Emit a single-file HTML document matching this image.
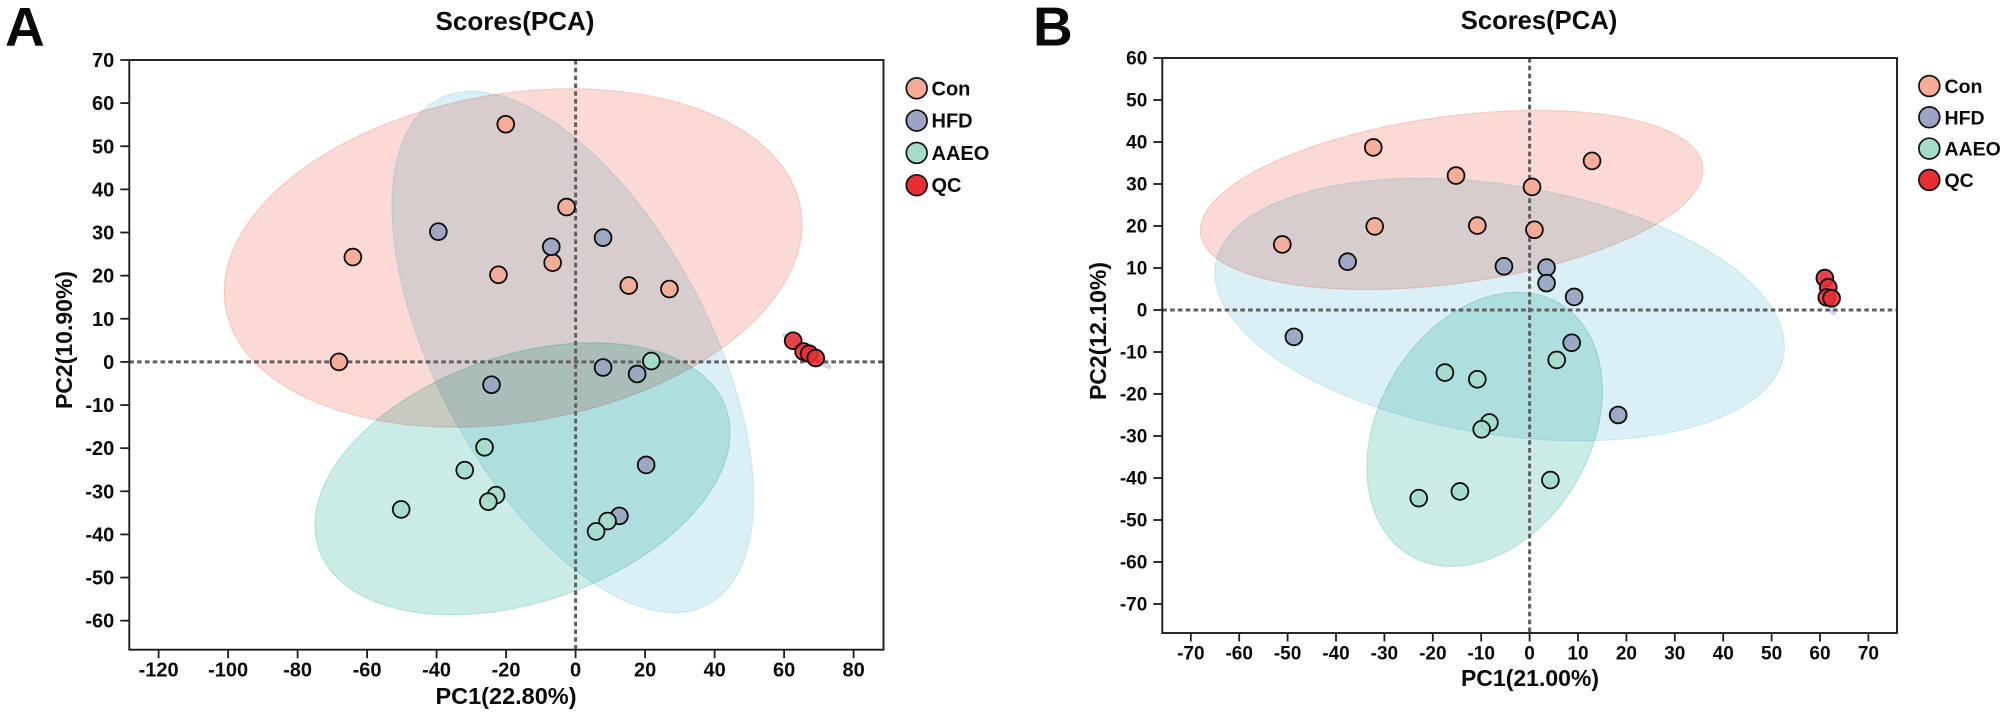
<!DOCTYPE html>
<html lang="en">
<head>
<meta charset="utf-8">
<title>Scores (PCA)</title>
<style>
html,body{margin:0;padding:0;background:#fff;}
svg{display:block;}
text{font-family:"Liberation Sans",Arial,sans-serif;font-weight:bold;fill:#0a0a0a;}
.blend{mix-blend-mode:multiply;}
.iso{isolation:isolate;}
</style>
</head>
<body>
<svg id="fig" xmlns="http://www.w3.org/2000/svg" width="2008" height="715" viewBox="0 0 2008 715">
  <rect width="2008" height="715" fill="#ffffff"/>

  <g id="panelA">
    <text x="5" y="45.5" font-size="55">A</text>
    <text x="515" y="30" font-size="26" text-anchor="middle">Scores(PCA)</text>
    <text x="506" y="704" font-size="23.5" text-anchor="middle">PC1(22.80%)</text>
    <text transform="translate(72,340) rotate(-90)" font-size="23" text-anchor="middle">PC2(10.90%)</text>
  </g>

  <g id="panelB">
    <text x="1033" y="45.5" font-size="55">B</text>
    <text x="1539" y="29" font-size="25.6" text-anchor="middle">Scores(PCA)</text>
    <text x="1530" y="686" font-size="23" text-anchor="middle">PC1(21.00%)</text>
    <text transform="translate(1106,331) rotate(-90)" font-size="23" text-anchor="middle">PC2(12.10%)</text>
  </g>
</svg>

<script>
// ---------- Panel A data ----------
var aXTicks = [-120,-100,-80,-60,-40,-20,0,20,40,60,80];
var aYTicks = [70,60,50,40,30,20,10,0,-10,-20,-30,-40,-50,-60];
var aConX  = [-20.1,-2.6,-64.1,-22.2,-6.6,15.3,27,-68.1];
var aConY  = [55.1,35.9,24.3,20.2,23,17.7,16.9,0];
var aHfdX  = [-39.5,-7,7.9,7.9,17.7,-24.2,20.3,12.6];
var aHfdY  = [30.2,26.7,28.8,-1.3,-2.8,-5.3,-23.9,-35.7];
var aAaeoX = [21.8,-26.2,-31.9,-22.9,-25.1,-50.2,9.2,5.9];
var aAaeoY = [0.2,-19.8,-25.1,-30.9,-32.4,-34.2,-36.9,-39.3];
var aQcX   = [62.6,65.6,67.2,69.1];
var aQcY   = [4.9,2.4,1.9,0.9];
// confidence ellipses: centre x, centre y, x half-extent, y half-extent, correlation
var aConEllipse  = [-18,24.1,83.1,39.2,0.2];
var aHfdEllipse  = [-0.8,2.3,52,60.4,-0.56];
var aAaeoEllipse = [-15.3,-27.1,59.7,31.5,0.34];
var aQcEllipse   = [66.5,2.5,6.9,4,-0.96];

// ---------- Panel B data ----------
var bXTicks = [-70,-60,-50,-40,-30,-20,-10,0,10,20,30,40,50,60,70];
var bYTicks = [60,50,40,30,20,10,0,-10,-20,-30,-40,-50,-60,-70];
var bConX  = [-32.3,12.9,-15.2,0.5,-32,-10.8,1,-51.1];
var bConY  = [38.7,35.5,32,29.3,19.9,20.1,19.1,15.6];
var bHfdX  = [-37.6,-5.3,3.5,3.5,9.2,-48.7,8.7,18.3];
var bHfdY  = [11.5,10.4,10.1,6.4,3.1,-6.4,-7.8,-25];
var bAaeoX = [5.6,-17.5,-10.8,-8.3,-9.9,4.3,-14.4,-22.9];
var bAaeoY = [-11.9,-14.9,-16.5,-26.8,-28.4,-40.5,-43.2,-44.8];
var bQcX   = [61,61.7,61.4,62.4];
var bQcY   = [7.6,5.4,3,2.8];
var bConEllipse  = [-16.1,26.2,51.9,21.3,0.34];
var bHfdEllipse  = [-6.2,0.1,58.8,31.2,-0.28];
var bAaeoEllipse = [-9.3,-28.4,24.3,32.6,0.28];
var bQcEllipse   = [61.7,4.3,1.6,5.4,-0.7];

// ---------- Shared labels ----------
var groupNames = ['Con','HFD','AAEO','QC'];

// ---------- Styles ----------
var NS = 'http://www.w3.org/2000/svg';
var pointFill = ['#f5ab96','#9aa5c3','#a3dccc','#e62e33'];
var ellipseFill = ['#fbdad5','#dbf0f6','#cbece6','#d5dcf0'];
var ellipseStroke = ['#f7c8bf','#c6e8f1','#aee2d8','#c6d0ea'];

function make(parent, tag, attrs) {
  var el = document.createElementNS(NS, tag);
  for (var k in attrs) el.setAttribute(k, attrs[k]);
  parent.appendChild(el);
  return el;
}

function ellipsePath(e, xs, ys) {
  var d = '';
  var s = Math.sqrt(1 - e[4] * e[4]);
  for (var i = 0; i < 180; i++) {
    var t = i / 180 * Math.PI * 2;
    var vx = e[0] + e[2] * Math.cos(t);
    var vy = e[1] + e[3] * (e[4] * Math.cos(t) + s * Math.sin(t));
    d += (i ? 'L' : 'M') + xs(vx).toFixed(2) + ' ' + ys(vy).toFixed(2);
  }
  return d + 'Z';
}

function drawPanel(root, cfg) {
  var xs = cfg.xs, ys = cfg.ys, b = cfg.box, i, el;
  var prefix = cfg.prefix;

  // ellipses
  var eg = make(root, 'g', {'class': 'iso'});
  
  
  for (i = 0; i < cfg.ellipses.length; i++) {
    el = make(eg, 'path', {d: ellipsePath(cfg.ellipses[i], xs, ys), fill: ellipseFill[i], stroke: ellipseStroke[i], 'stroke-width': 1.2, 'class': 'blend'});
    
    
  }

  // zero reference lines
  el = make(root, 'line', {x1: b.l, x2: b.r, y1: ys(0), y2: ys(0), stroke: '#606060', 'stroke-width': 3, 'stroke-dasharray': '4.6 3.2'});
  
  
  el = make(root, 'line', {x1: xs(0), x2: xs(0), y1: b.t, y2: b.b, stroke: '#606060', 'stroke-width': 3, 'stroke-dasharray': '4.6 3.2'});
  
  

  // axes frame
  el = make(root, 'rect', {x: b.l, y: b.t, width: b.r - b.l, height: b.b - b.t, fill: 'none', stroke: '#1c1c1c', 'stroke-width': 1.9});
  
  

  // x ticks
  for (i = 0; i < cfg.xTicks.length; i++) {
    var vx = cfg.xTicks[i];
    el = make(root, 'line', {x1: xs(vx), x2: xs(vx), y1: b.b, y2: b.b + 8.5, stroke: '#1c1c1c', 'stroke-width': 1.8});
    
    
    el = make(root, 'text', {x: xs(vx), y: b.b + cfg.xLabelDy, 'font-size': cfg.tickFont, 'text-anchor': 'middle'});
    el.textContent = vx;
    
    
  }
  // y ticks
  for (i = 0; i < cfg.yTicks.length; i++) {
    var vy = cfg.yTicks[i];
    el = make(root, 'line', {x1: b.l - 9, x2: b.l, y1: ys(vy), y2: ys(vy), stroke: '#1c1c1c', 'stroke-width': 1.8});
    
    
    el = make(root, 'text', {x: b.l - 15, y: ys(vy) + cfg.tickFont * 0.35, 'font-size': cfg.tickFont, 'text-anchor': 'end'});
    el.textContent = vy;
    
    
  }

  // points
  for (var g = 0; g < cfg.seriesX.length; g++) {
    var pg = make(root, 'g', {});
    
    
    for (i = 0; i < cfg.seriesX[g].length; i++) {
      el = make(pg, 'circle', {cx: xs(cfg.seriesX[g][i]), cy: ys(cfg.seriesY[g][i]), r: 8.4, fill: pointFill[g], 'fill-opacity': g === 3 ? 0.88 : 0.95, stroke: '#0c0c0c', 'stroke-width': 1.8});
      
      
    }
  }

  // legend
  var lg = make(root, 'g', {});
  
  
  for (i = 0; i < groupNames.length; i++) {
    var ly = cfg.legendY + i * cfg.legendStep;
    el = make(lg, 'circle', {cx: cfg.legendX, cy: ly, r: 10.4, fill: pointFill[i], stroke: '#111', 'stroke-width': 1.7});
    
    
    el = make(lg, 'text', {x: cfg.legendTextX, y: ly + 7, 'font-size': cfg.legendFont});
    el.textContent = groupNames[i];
    
    
  }
}

// axis functions
function xA(v) { return 575.6 + v * 3.475; }
function yA(v) { return 361.9 - v * 4.313; }
function xB(v) { return 1529.6 + v * 4.84; }
function yB(v) { return 310 - v * 4.2; }

drawPanel(document.getElementById('panelA'), {
  prefix: 'panel-a', xs: xA, ys: yA,
  box: {l: 129.3, r: 883.5, t: 60, b: 649.7},
  xTicks: aXTicks, yTicks: aYTicks,
  seriesX: [aConX, aHfdX, aAaeoX, aQcX],
  seriesY: [aConY, aHfdY, aAaeoY, aQcY],
  ellipses: [aConEllipse, aHfdEllipse, aAaeoEllipse, aQcEllipse],
  tickFont: 20, xLabelDy: 27,
  legendX: 916.7, legendY: 88.3, legendStep: 32.3, legendTextX: 931.5, legendFont: 20
});

drawPanel(document.getElementById('panelB'), {
  prefix: 'panel-b', xs: xB, ys: yB,
  box: {l: 1162.3, r: 1897, t: 58, b: 633},
  xTicks: bXTicks, yTicks: bYTicks,
  seriesX: [bConX, bHfdX, bAaeoX, bQcX],
  seriesY: [bConY, bHfdY, bAaeoY, bQcY],
  ellipses: [bConEllipse, bHfdEllipse, bAaeoEllipse, bQcEllipse],
  tickFont: 19, xLabelDy: 26.5,
  legendX: 1929.3, legendY: 86, legendStep: 31.3, legendTextX: 1944.5, legendFont: 19.5
});
</script>
</body>
</html>
